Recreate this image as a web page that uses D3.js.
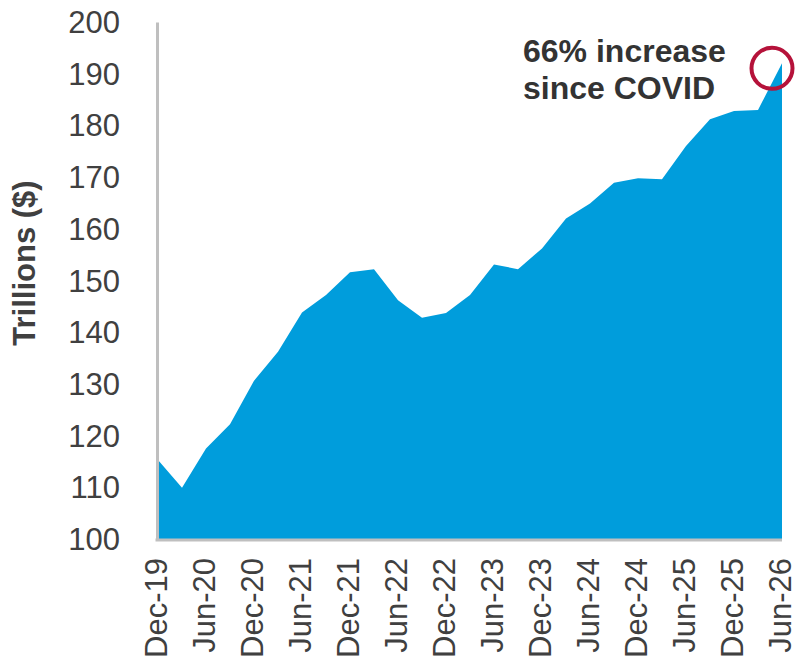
<!DOCTYPE html>
<html>
<head>
<meta charset="utf-8">
<script src="https://cdn.jsdelivr.net/npm/d3@7"></script>
<style>
  html, body { margin: 0; padding: 0; background: #ffffff; }
  svg { display: block; }
  text { font-family: "Liberation Sans", Arial, sans-serif; }
</style>
</head>
<body>
<svg id="chart" width="798" height="662"></svg>
<script>
// Quarterly periods, Dec-19 .. Jun-26
const periods = [
  "Dec-19","Mar-20","Jun-20","Sep-20","Dec-20","Mar-21","Jun-21","Sep-21","Dec-21",
  "Mar-22","Jun-22","Sep-22","Dec-22","Mar-23","Jun-23","Sep-23","Dec-23",
  "Mar-24","Jun-24","Sep-24","Dec-24","Mar-25","Jun-25","Sep-25","Dec-25",
  "Mar-26","Jun-26"
];
// Values in trillions of dollars
const values = [
  115.3, 109.9, 117.5, 122.2, 130.6, 136.2, 143.8, 147.2, 151.6,
  152.2, 146.2, 142.8, 143.7, 147.2, 153.1, 152.2, 156.2,
  162.0, 164.9, 168.9, 169.8, 169.6, 176.0, 181.2, 182.8,
  183.0, 192.0
];
// Labelled ticks on the x axis
const xTickLabels = ["Dec-19","Jun-20","Dec-20","Jun-21","Dec-21","Jun-22","Dec-22",
  "Jun-23","Dec-23","Jun-24","Dec-24","Jun-25","Dec-25","Jun-26"];
const yTicks = [100, 110, 120, 130, 140, 150, 160, 170, 180, 190, 200];
const yTitle = "Trillions ($)";
const annotationLines = ["66% increase", "since COVID"];

const data = periods.map((p, i) => ({ p, v: values[i] }));

const svg = d3.select("#chart");
const mLeft = 158, mRight = 782, mTop = 22, mBottom = 539;

const x = d3.scalePoint().domain(periods).range([mLeft, mRight]);
const y = d3.scaleLinear().domain([100, 200]).range([mBottom, mTop]);

// Area
const area = d3.area()
  .x(d => x(d.p))
  .y0(y(100))
  .y1(d => y(d.v));

svg.append("path")
  .datum(data)
  .attr("d", area)
  .attr("fill", "#009ddc");

// Y axis
const yAxis = d3.axisLeft(y).tickValues(yTicks).tickSize(0).tickPadding(0);
const gy = svg.append("g").attr("transform", `translate(${mLeft - 1},0)`).call(yAxis);
gy.select(".domain").attr("stroke", "#bfbfbf").attr("stroke-width", 3);
gy.selectAll(".tick text")
  .attr("x", -37)
  .attr("dy", "0.34em")
  .attr("fill", "#404040")
  .style("font-size", "31px")
  .style("font-family", "'Liberation Sans', Arial, sans-serif");

// X axis
const xAxis = d3.axisBottom(x).tickValues(xTickLabels).tickSize(0).tickPadding(0);
const gx = svg.append("g").attr("transform", `translate(0,${mBottom + 1})`).call(xAxis);
gx.select(".domain").attr("stroke", "#bfbfbf").attr("stroke-width", 3)
  .attr("d", `M${mLeft - 2.5},0H${mRight}`);
gx.selectAll(".tick text")
  .attr("transform", "rotate(-90)")
  .attr("text-anchor", "end")
  .attr("x", -18)
  .attr("y", -2)
  .attr("dy", "0.35em")
  .attr("fill", "#404040")
  .style("font-size", "31px")
  .style("font-family", "'Liberation Sans', Arial, sans-serif");

// Y title
svg.append("text")
  .attr("transform", `translate(35,263) rotate(-90)`)
  .attr("text-anchor", "middle")
  .attr("fill", "#404040")
  .style("font-size", "31px")
  .style("font-weight", "bold")
  .text(yTitle);

// Annotation
const ann = svg.append("text")
  .attr("x", 523)
  .attr("y", 62)
  .attr("fill", "#333333")
  .style("font-size", "32px")
  .style("font-weight", "bold");
annotationLines.forEach((t, i) => {
  ann.append("tspan").attr("x", 523).attr("dy", i === 0 ? 0 : 37).text(t);
});

// Circle highlighting the last point
const last = data[data.length - 1];
svg.append("circle")
  .attr("cx", x(last.p) - 10)
  .attr("cy", y(last.v) + 5)
  .attr("r", 20.5)
  .attr("fill", "none")
  .attr("stroke", "#b5123a")
  .attr("stroke-width", 4);
</script>
</body>
</html>
